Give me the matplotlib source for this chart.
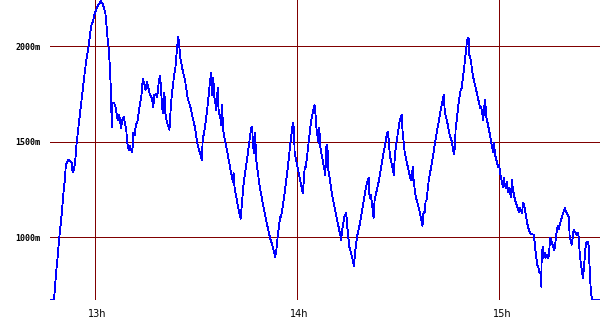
import matplotlib
matplotlib.use("Agg")
import matplotlib.pyplot as plt
import matplotlib.transforms as mtransforms

# time in minutes since midnight, altitude in metres
time_min = [
    766.8, 768.0, 768.1, 768.6, 769.0, 769.5, 770.3, 770.8, 771.2, 771.5,
    771.8, 772.2, 772.7, 773.2, 773.5, 773.9, 774.3, 774.7, 775.9, 777.1,
    777.5, 778.3, 778.7, 779.1, 779.5, 779.9, 780.8, 781.8, 782.3, 782.8,
    783.2, 783.6, 783.9, 784.2, 784.6, 784.9, 785.1, 785.3, 785.8, 786.2,
    786.6, 786.9, 787.3, 787.6, 787.9, 788.2, 788.7, 789.0, 789.4, 789.7,
    790.1, 790.5, 790.8, 791.2, 791.5, 791.9, 792.3, 792.7, 793.5, 793.9,
    794.3, 794.7, 795.1, 795.5, 795.9, 796.4, 797.0, 797.4, 797.7, 798.2,
    798.6, 799.0, 799.4, 799.7, 800.0, 800.4, 800.7, 801.0, 801.4, 802.2,
    802.6, 802.9, 803.6, 803.9, 804.4, 804.8, 805.1, 805.4, 806.1, 806.8,
    807.6, 808.4, 809.1, 809.8, 810.4, 810.7, 811.4, 811.8, 812.1, 812.4,
    813.0, 813.6, 814.2, 814.6, 814.9, 815.2, 815.5, 816.1, 816.5, 816.8,
    817.2, 817.5, 817.8, 818.1, 818.8, 819.5, 820.4, 821.0, 821.2, 821.5,
    822.7, 823.3, 823.6, 824.2, 825.1, 826.0, 826.4, 826.7, 827.0, 827.3,
    827.6, 827.9, 829.0, 830.8, 832.0, 832.9, 833.5, 833.8, 834.4, 835.0,
    835.3, 836.2, 837.3, 838.2, 838.8, 839.1, 839.3, 841.7, 842.0, 842.3,
    842.6, 843.2, 844.1, 844.7, 845.2, 845.5, 845.8, 846.4, 846.6, 846.9,
    848.4, 848.7, 849.0, 849.3, 850.5, 853.1, 853.4, 854.0, 854.6, 854.9,
    855.5, 856.3, 856.9, 857.2, 857.8, 858.7, 860.4, 861.0, 861.3, 861.5,
    861.8, 862.1, 862.7, 863.0, 864.2, 865.4, 866.6, 866.9, 867.2, 867.5,
    868.7, 869.0, 869.5, 870.4, 871.0, 871.3, 871.9, 872.5, 873.7, 874.0,
    874.3, 874.6, 875.2, 876.1, 877.2, 877.5, 877.8, 878.1, 878.4, 879.0,
    880.2, 881.4, 882.6, 883.5, 883.8, 884.4, 885.2, 885.9, 886.5, 886.8,
    887.0, 887.9, 888.5, 888.8, 889.7, 890.3, 890.6, 890.9, 891.1, 891.4,
    892.2, 893.1, 894.3, 894.6, 895.2, 895.5, 895.8, 896.0, 897.2, 897.8,
    898.1, 898.4, 898.7, 899.6, 899.9, 900.2, 901.0, 901.3, 901.6, 901.9,
    902.2, 902.5, 902.8, 903.4, 903.7, 904.0, 904.6, 905.8, 906.1, 906.7,
    907.0, 907.3, 908.2, 908.7, 909.3, 910.2, 910.5, 910.8, 911.2, 911.5,
    911.8, 912.1, 912.4, 912.5, 912.8, 913.1, 913.4, 913.7, 914.0, 914.4,
    914.7, 915.0, 915.3, 915.9, 916.2, 916.5, 916.7, 917.3, 917.6, 917.9,
    918.5, 919.4, 919.7, 920.6, 920.8, 921.4, 921.7, 922.0, 922.9, 923.2,
    923.5, 923.8, 924.7, 925.0, 925.5, 925.8, 926.1, 926.4, 926.7, 927.0,
    927.3, 927.6, 929.8,
]
alt_m = [
    672, 672, 698, 813, 881, 986, 1127, 1232, 1300, 1379,
    1389, 1405, 1399, 1389, 1342, 1352, 1405, 1494, 1682, 1865,
    1918, 2007, 2070, 2112, 2127, 2164, 2206, 2237, 2227, 2201,
    2174, 2101, 2033, 1991, 1876, 1735, 1578, 1703, 1703, 1682,
    1640, 1614, 1640, 1604, 1572, 1614, 1630, 1598, 1562, 1494,
    1457, 1478, 1457, 1447, 1546, 1536, 1593, 1604, 1703, 1745,
    1829, 1808, 1771, 1813, 1787, 1745, 1729, 1682, 1745, 1750,
    1735, 1808, 1845, 1787, 1677, 1651, 1756, 1651, 1604, 1562,
    1682, 1745, 1850, 1876, 1981, 2049, 2007, 1939, 1876, 1824,
    1729, 1682, 1625, 1572, 1499, 1473, 1431, 1405, 1525, 1536,
    1614, 1703, 1813, 1860, 1745, 1834, 1735, 1667, 1782, 1651,
    1640, 1588, 1693, 1562, 1494, 1431, 1342, 1290, 1337, 1258,
    1143, 1096, 1159, 1284, 1394, 1515, 1572, 1578, 1473, 1441,
    1546, 1405, 1258, 1091, 996, 944, 897, 918, 1022, 1106,
    1106, 1211, 1368, 1520, 1598, 1572, 1441, 1232, 1290, 1368,
    1368, 1457, 1598, 1656, 1693, 1640, 1562, 1494, 1572, 1473,
    1326, 1473, 1483, 1352, 1211, 986, 1038, 1106, 1127, 1054,
    949, 897, 850, 918, 1002, 1075, 1258, 1300, 1310, 1206,
    1222, 1195, 1101, 1195, 1290, 1415, 1536, 1551, 1509, 1431,
    1326, 1431, 1499, 1604, 1640, 1551, 1447, 1394, 1300, 1300,
    1368, 1290, 1211, 1153, 1059, 1132, 1127, 1185, 1195, 1290,
    1415, 1546, 1667, 1745, 1656, 1614, 1541, 1499, 1436, 1473,
    1562, 1703, 1771, 1782, 1913, 2017, 2043, 2038, 1954, 1939,
    1839, 1771, 1677, 1682, 1614, 1682, 1719, 1640, 1536, 1473,
    1447, 1494, 1431, 1368, 1379, 1337, 1263, 1310, 1274, 1258,
    1290, 1237, 1258, 1211, 1300, 1248, 1195, 1132, 1153, 1127,
    1180, 1169, 1075, 1038, 1017, 1012, 960, 907, 855, 844,
    813, 818, 740, 881, 949, 892, 918, 892, 907, 892,
    907, 996, 986, 949, 933, 944, 1002, 1059, 1043, 1064,
    1106, 1153, 1132, 1106, 1002, 960, 996, 1038, 1012, 1022,
    1002, 907, 787, 829, 944, 975, 975, 960, 855, 740,
    687, 672, 672,
]

hour_ticks = [780, 840, 900]
hour_labels = ["13h", "14h", "15h"]
alt_ticks = [1000, 1500, 2000]
alt_labels = ["1000m", "1500m", "2000m"]

fig = plt.figure(figsize=(6.0, 3.3), dpi=100)
ax = fig.add_axes([50 / 600, 30 / 330, 550 / 600, 300 / 330])

ax.plot(time_min, alt_m, color="#0000ff", lw=0.6, antialiased=False, zorder=3)

ax.set_xlim(766.8, 929.8)
ax.set_ylim(670, 2243)

for h in hour_ticks:
    ax.axvline(h, color="#800000", lw=0.5, antialiased=False, zorder=2)
for a in alt_ticks:
    ax.axhline(a, color="#800000", lw=0.5, antialiased=False, zorder=2)

ax.set_xticks(hour_ticks)
ax.set_xticklabels(hour_labels, fontsize=7, family="DejaVu Sans")
ax.set_yticks(alt_ticks)
ax.set_yticklabels(alt_labels, fontsize=6, family="DejaVu Sans Mono",
                   fontweight="bold")
ax.tick_params(axis="both", length=0)
ax.tick_params(axis="x", pad=6.5)
ax.tick_params(axis="y", pad=7)

offset = mtransforms.ScaledTranslation(2.5 / 100, 0, fig.dpi_scale_trans)
for lbl in ax.get_xticklabels():
    lbl.set_transform(lbl.get_transform() + offset)

for s in ax.spines.values():
    s.set_visible(False)
ax.set_facecolor("white")
fig.patch.set_facecolor("white")

fig.savefig("out.png", dpi=100)
